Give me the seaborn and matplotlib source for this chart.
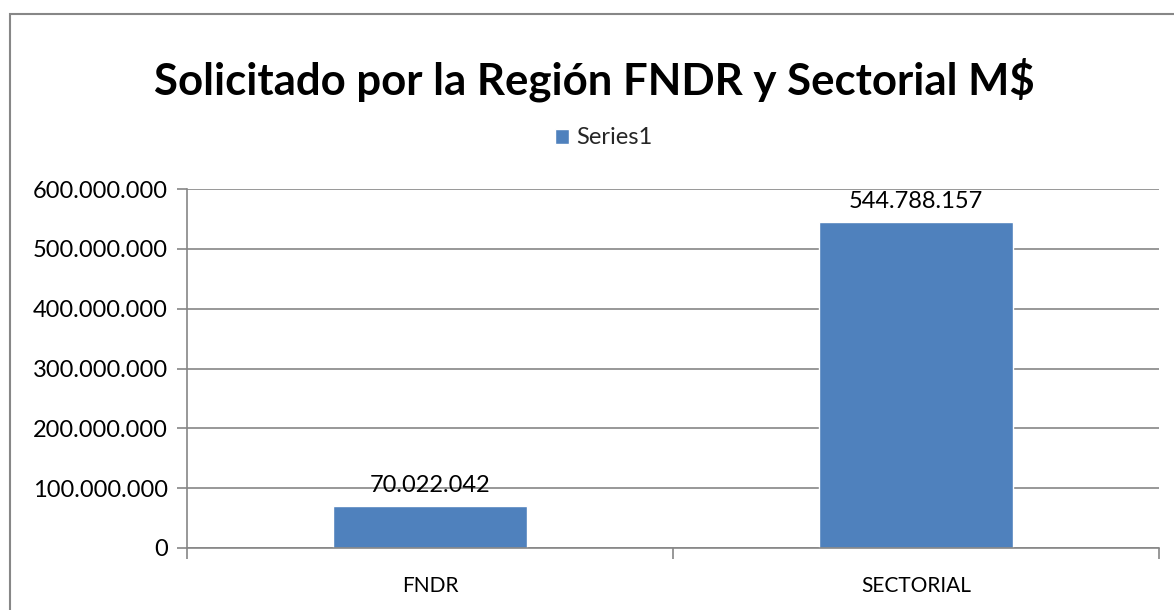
import matplotlib
matplotlib.use("Agg")
import matplotlib.pyplot as plt
import matplotlib.ticker as mticker
from matplotlib.patches import Rectangle
import seaborn as sns
import pandas as pd

categories = ["FNDR", "SECTORIAL"]
values = [70022042, 544788157]
series_name = "Series1"
title = "Solicitado por la Región FNDR y Sectorial M$"
y_ticks = [0, 100000000, 200000000, 300000000, 400000000, 500000000, 600000000]

BAR = "#4F81BD"
GRID = "#868686"

sns.set_theme(style="white")
plt.rcParams["font.family"] = ["Lato", "DejaVu Sans"]

df = pd.DataFrame({"cat": categories, "val": values, "series": [series_name] * len(categories)})

fig = plt.figure(figsize=(11.74, 6.10), dpi=100)
ax = fig.add_axes([187/1174, 1 - 548/610, (1159 - 187)/1174, (548 - 189)/610])

sns.barplot(data=df, x="cat", y="val", hue="series", palette=[BAR], width=0.40,
            ax=ax, legend=True, saturation=1)

def fmt(v, pos=None):
    return f"{int(round(v)):,}".replace(",", ".")

ax.set_ylim(0, 600000000)
ax.set_yticks(y_ticks)
ax.yaxis.set_major_formatter(mticker.FuncFormatter(fmt))
ax.set_xlim(-0.5, 1.5)
ax.set_xlabel("")
ax.set_ylabel("")
ax.yaxis.grid(True, color=GRID, linewidth=1.2)
ax.set_axisbelow(True)

for s in ["top", "right"]:
    ax.spines[s].set_visible(False)
for s in ["left", "bottom"]:
    ax.spines[s].set_color(GRID)
    ax.spines[s].set_linewidth(1.2)

ax.tick_params(axis="y", which="both", left=True, length=7, width=1.2, color=GRID,
               labelsize=17, pad=7, labelcolor="black")
ax.set_xticks([0, 1])
ax.set_xticklabels(categories)
ax.xaxis.set_minor_locator(mticker.FixedLocator([-0.5, 0.5, 1.5]))
ax.tick_params(axis="x", which="major", bottom=False, labelsize=15, pad=14, labelcolor="black")
ax.tick_params(axis="x", which="minor", bottom=True, length=8, width=1.2, color=GRID)

for p, v in zip(ax.patches, values):
    if p.get_height() <= 0:
        continue
    ax.annotate(fmt(v), (p.get_x() + p.get_width()/2, p.get_height()),
                xytext=(0, 7), textcoords="offset points", ha="center", va="bottom",
                fontsize=17, color="black")

leg = ax.legend(loc="center", bbox_to_anchor=(604/1174, 1 - 138/610),
                bbox_transform=fig.transFigure, frameon=False, fontsize=17,
                handlelength=0.6, handleheight=0.6, handletextpad=0.3)

fig.text(594/1174, 1 - 80/610, title, ha="center", va="center",
         fontsize=31.5, fontweight="bold", color="black")

fig.patches.append(Rectangle((10/1174, -0.1), 1.5, 1 - 14/610 + 0.1,
                             transform=fig.transFigure, fill=False,
                             edgecolor="#878787", linewidth=1.5))

fig.savefig("out.png", dpi=100)
